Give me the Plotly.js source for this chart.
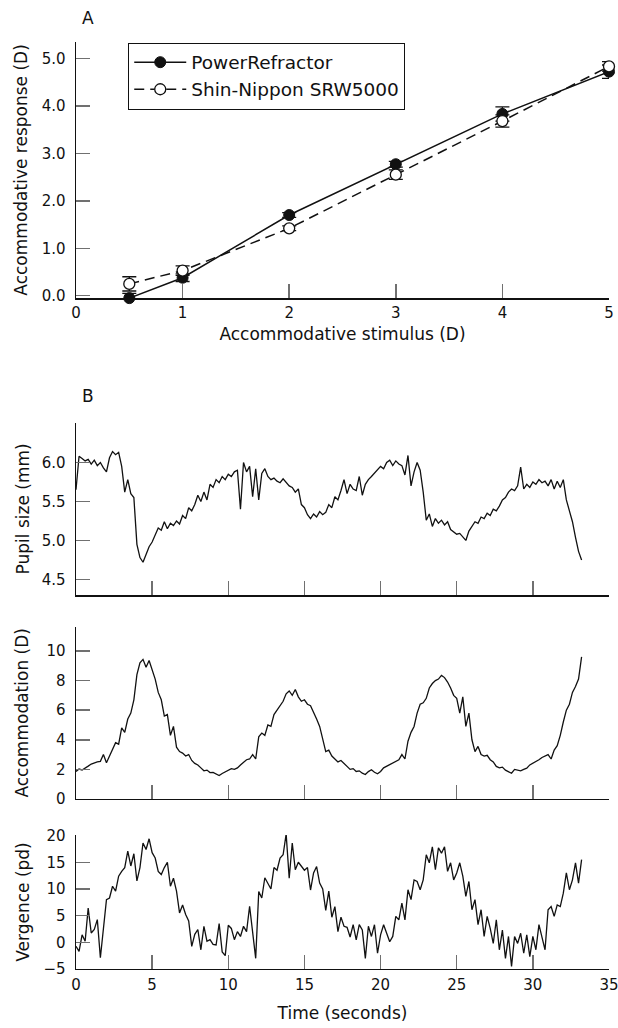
<!DOCTYPE html>
<html>
<head>
<meta charset="utf-8">
<script src="https://cdn.plot.ly/plotly-3.0.1.min.js"></script>
<style>html,body{margin:0;padding:0;background:#fff;}#chart{width:618px;height:1028px;}</style>
</head>
<body>
<div id="chart"></div>
<script>
// ---------- Panel A data ----------
const stimulus = [0.5, 1, 2, 3, 4, 5];
const powerRefractor = [-0.05, 0.38, 1.70, 2.77, 3.83, 4.72];
const powerRefractorErr = [0.10, 0.08, 0.05, 0.06, 0.15, 0.14];
const shinNippon = [0.25, 0.53, 1.42, 2.55, 3.68, 4.83];
const shinNipponErr = [0.15, 0.10, 0.05, 0.10, 0.13, 0.10];
const panelAxTicks = [0, 1, 2, 3, 4, 5];
const panelAyTicks = [0, 1, 2, 3, 4, 5];

// ---------- Panel B data (sampled every 0.2 s from t = 0) ----------
const sampleStart = 0;
const sampleInterval = 0.2;
const pupilSize = [
  5.65, 6.08, 6.05, 6.02, 6.04,  5.98, 6.03, 5.96, 6.00, 5.93,
  5.88, 6.06, 6.14, 6.10, 6.13,  5.95, 5.62, 5.78, 5.60, 5.55,
  4.95, 4.78, 4.72, 4.82, 4.92,  4.98, 5.08, 5.16, 5.13, 5.24,
  5.15, 5.22, 5.19, 5.25, 5.21,  5.32, 5.28, 5.42, 5.38, 5.46,
  5.58, 5.50, 5.62, 5.52, 5.72,  5.68, 5.78, 5.74, 5.82, 5.78,
  5.85, 5.82, 5.88, 5.90, 5.40,  6.00, 5.88, 5.95, 5.56, 5.92,
  5.52, 5.86, 5.92, 5.82, 5.78,  5.80, 5.76, 5.74, 5.79, 5.74,
  5.70, 5.68, 5.62, 5.66, 5.46,  5.42, 5.33, 5.28, 5.34, 5.30,
  5.37, 5.33, 5.36, 5.46, 5.42,  5.56, 5.52, 5.64, 5.78, 5.60,
  5.72, 5.66, 5.64, 5.82, 5.58,  5.72, 5.78, 5.82, 5.86, 5.90,
  5.95, 5.92, 6.00, 6.03, 5.96,  6.02, 5.98, 5.96, 5.84, 6.09,
  5.70, 5.88, 6.00, 5.90, 5.62,  5.26, 5.34, 5.18, 5.28, 5.22,
  5.26, 5.20, 5.24, 5.14, 5.11,  5.08, 5.09, 5.04, 5.00, 5.12,
  5.18, 5.24, 5.22, 5.30, 5.28,  5.35, 5.32, 5.40, 5.38, 5.44,
  5.52, 5.55, 5.62, 5.66, 5.64,  5.70, 5.94, 5.66, 5.72, 5.68,
  5.75, 5.72, 5.78, 5.74, 5.76,  5.70, 5.78, 5.66, 5.76, 5.68,
  5.78, 5.52, 5.38, 5.24, 5.04,  4.86, 4.75
];
const accommodation = [
  1.86, 2.02, 1.96, 2.12, 2.22,  2.36, 2.44, 2.50, 2.54, 3.00,
  2.45, 2.90, 3.40, 3.80, 3.70,  4.80, 4.50, 5.40, 5.80, 6.70,
  8.40, 9.20, 9.43, 8.90, 9.35,  8.70, 8.10, 7.20, 6.70, 5.60,
  5.70, 4.30, 4.90, 3.50, 3.20,  3.10, 2.90, 3.00, 2.60, 2.40,
  2.30, 2.10, 1.90, 1.95, 1.78,  1.80, 1.68, 1.58, 1.72, 1.82,
  1.92, 2.05, 2.00, 2.10, 2.30,  2.45, 2.65, 2.70, 3.00, 2.70,
  4.20, 4.45, 4.30, 5.00, 4.90,  5.70, 6.00, 6.30, 6.60, 7.10,
  7.30, 7.00, 7.40, 6.90, 6.60,  6.70, 6.40, 6.30, 5.90, 5.40,
  4.90, 4.00, 3.20, 3.30, 2.90,  2.70, 2.50, 2.60, 2.40, 2.20,
  2.00, 2.05, 1.86, 1.90, 1.74,  1.65, 1.85, 1.97, 1.80, 1.70,
  1.86, 2.10, 2.20, 2.30, 2.42,  2.55, 2.65, 3.00, 2.70, 3.90,
  4.50, 4.90, 5.80, 6.40, 6.50,  6.80, 7.50, 7.80, 8.00, 8.10,
  8.35, 8.20, 7.90, 7.50, 7.00,  6.80, 5.80, 6.90, 4.90, 5.80,
  4.00, 3.20, 3.55, 3.00, 2.90,  2.95, 2.65, 2.50, 2.20, 2.10,
  2.15, 1.95, 1.85, 1.74, 2.00,  1.95, 1.90, 2.00, 2.08, 2.30,
  2.42, 2.50, 2.65, 2.80, 2.90,  3.00, 2.70, 3.30, 3.60, 4.30,
  5.20, 6.00, 6.40, 7.20, 7.60,  8.10, 9.60
];
const vergence = [
  -0.75, -1.7, 1.4, 0.2, 6.4,   1.75, 2.4, 4.25, -2.9, 2.0,
  8.0, 8.3, 10.5, 9.6, 12.4,    13.3, 14.0, 17.1, 14.3, 16.6,
  11.5, 14.0, 18.6, 17.4, 19.4, 16.8, 15.8, 13.3, 12.7, 14.0,
  15.0, 10.5, 12.0, 9.6, 5.5,   7.0, 5.2, 4.0, -0.75, 1.5,
  2.4, -1.4, 3.0, 0.2, 0.5,     -0.4, -0.5, 3.5, -1.8, -2.5,
  3.2, 2.6, 0.5, 2.0, 1.1,      3.0, 2.0, 6.75, 2.4, -3.0,
  9.5, 8.3, 12.1, 11.1, 10.0,   14.0, 13.5, 15.8, 16.4, 20.3,
  12.0, 18.6, 13.6, 15.0, 14.2, 13.5, 14.0, 9.8, 13.0, 14.2,
  11.1, 10.0, 6.0, 9.6, 4.7,    6.7, 2.0, 4.7, 3.0, 2.8,
  1.0, 3.3, 0.45, 3.3, 2.3,     -3.0, 3.0, 1.1, 3.3, -2.05,
  1.4, 3.3, 1.7, 0.1, 1.1,      4.85, 4.2, 7.35, 4.2, 9.85,
  8.0, 11.7, 11.4, 9.85, 11.7,  16.4, 14.9, 17.9, 13.6, 17.7,
  16.7, 17.9, 13.3, 14.9, 11.7, 13.0, 14.9, 12.4, 8.6, 11.4,
  6.1, 8.0, 3.3, 6.1, 1.1,      4.85, 2.6, -0.2, 4.2, -1.4,
  2.3, -3.0, 1.1, -4.5, 1.1,    -0.2, 1.7, -2.05, 1.4, -2.7,
  1.1, -1.4, 3.3, 1.1, -1.4,    6.1, 6.7, 4.85, 7.0, 6.7,
  9.2, 13.0, 9.85, 11.7, 14.9,  11.1, 15.5
];
const timeTicks = [0, 5, 10, 15, 20, 25, 30, 35];
const pupilTicks = [4.5, 5.0, 5.5, 6.0];
const accommodationTicks = [0, 2, 4, 6, 8, 10];
const vergenceTicks = [-5, 0, 5, 10, 15, 20];

// ---------- styling ----------
const FONT = '"DejaVu Sans", "Open Sans", sans-serif';
const INK = '#111';
const TICKC = '#707070';

function axisBase(extra) {
  return Object.assign({
    showline: true, linecolor: INK, linewidth: 1.5,
    ticks: 'inside', ticklen: 14, tickwidth: 1.5, tickcolor: TICKC,
    showgrid: false, zeroline: false, mirror: false,
    tickfont: {family: FONT, size: 15, color: INK},
    ticklabelstandoff: 6,
    ticklabeloverflow: 'allow',
    fixedrange: true
  }, extra);
}

const seriesLine = {color: INK, width: 1.3};

const traces = [
  {
    x: stimulus, y: powerRefractor, name: 'PowerRefractor',
    type: 'scatter', mode: 'lines+markers', xaxis: 'x', yaxis: 'y',
    line: {color: INK, width: 1.5},
    marker: {symbol: 'circle', size: 11, color: INK, line: {color: INK, width: 1}},
    error_y: {type: 'data', array: powerRefractorErr, visible: true, color: INK, thickness: 1.3, width: 7},
    cliponaxis: false
  },
  {
    x: stimulus, y: shinNippon, name: 'Shin-Nippon SRW5000',
    type: 'scatter', mode: 'lines+markers', xaxis: 'x', yaxis: 'y',
    line: {color: INK, width: 1.5, dash: '10px,6px'},
    marker: {symbol: 'circle', size: 11, color: '#fff', line: {color: INK, width: 1.3}},
    error_y: {type: 'data', array: shinNipponErr, visible: true, color: INK, thickness: 1.3, width: 7},
    cliponaxis: false
  },
  {
    y: pupilSize, x0: sampleStart, dx: sampleInterval, type: 'scatter', mode: 'lines',
    xaxis: 'x2', yaxis: 'y2', line: seriesLine, showlegend: false, cliponaxis: false
  },
  {
    y: accommodation, x0: sampleStart, dx: sampleInterval, type: 'scatter', mode: 'lines',
    xaxis: 'x3', yaxis: 'y3', line: seriesLine, showlegend: false, cliponaxis: false
  },
  {
    y: vergence, x0: sampleStart, dx: sampleInterval, type: 'scatter', mode: 'lines',
    xaxis: 'x4', yaxis: 'y4', line: seriesLine, showlegend: false, cliponaxis: false
  }
];

const titleFont = {family: FONT, size: 17, color: INK};

const layout = {
  width: 618, height: 1028,
  margin: {l: 76, r: 9, t: 0, b: 0},
  paper_bgcolor: '#fff', plot_bgcolor: '#fff',
  font: {family: FONT, color: INK},
  showlegend: true,
  legend: {
    x: 0.098, y: 0.9585, xanchor: 'left', yanchor: 'top',
    bordercolor: INK, borderwidth: 1, bgcolor: '#fff',
    font: {family: FONT, size: 18.5, color: INK},
    itemwidth: 52, tracegroupgap: 0
  },
  xaxis: axisBase({
    domain: [0, 1], anchor: 'y', range: [0, 5],
    tickvals: panelAxTicks, ticktext: panelAxTicks.map(String),
    ticklabelstandoff: 0,
    title: {text: 'Accommodative stimulus (D)', font: titleFont, standoff: 7}
  }),
  yaxis: axisBase({
    domain: [0.7100, 0.9594], anchor: 'x', range: [-0.05, 5.35],
    tickvals: panelAyTicks, tickformat: '.1f',
    title: {text: 'Accommodative response (D)', font: titleFont, standoff: 9}
  }),
  xaxis2: axisBase({
    domain: [0, 1], anchor: 'y2', range: [0, 35],
    tickvals: timeTicks, showticklabels: false
  }),
  yaxis2: axisBase({
    domain: [0.4212, 0.5888], anchor: 'x2', range: [4.3, 6.51],
    tickvals: pupilTicks, tickformat: '.1f',
    title: {text: 'Pupil size (mm)', font: titleFont, standoff: 7}
  }),
  xaxis3: axisBase({
    domain: [0, 1], anchor: 'y3', range: [0, 35],
    tickvals: timeTicks, showticklabels: false
  }),
  yaxis3: axisBase({
    domain: [0.2228, 0.3904], anchor: 'x3', range: [0, 11.64],
    tickvals: accommodationTicks,
    title: {text: 'Accommodation (D)', font: titleFont, standoff: 13}
  }),
  xaxis4: axisBase({
    domain: [0, 1], anchor: 'y4', range: [0, 35],
    tickvals: timeTicks,
    ticklabelstandoff: 2,
    title: {text: 'Time (seconds)', font: titleFont, standoff: 13}
  }),
  yaxis4: axisBase({
    domain: [0.0574, 0.1877], anchor: 'x4', range: [-5, 20.1],
    tickvals: vergenceTicks,
    title: {text: 'Vergence (pd)', font: titleFont, standoff: 9}
  }),
  annotations: [
    {text: 'A', xref: 'paper', yref: 'paper', x: (88 - 76) / 533, y: (1028 - 18) / 1028,
     xanchor: 'center', yanchor: 'middle', showarrow: false, font: {family: FONT, size: 17, color: INK}},
    {text: 'B', xref: 'paper', yref: 'paper', x: (88 - 76) / 533, y: (1028 - 396) / 1028,
     xanchor: 'center', yanchor: 'middle', showarrow: false, font: {family: FONT, size: 17, color: INK}}
  ]
};

Plotly.newPlot('chart', traces, layout, {displayModeBar: false, staticPlot: true});
</script>
</body>
</html>
